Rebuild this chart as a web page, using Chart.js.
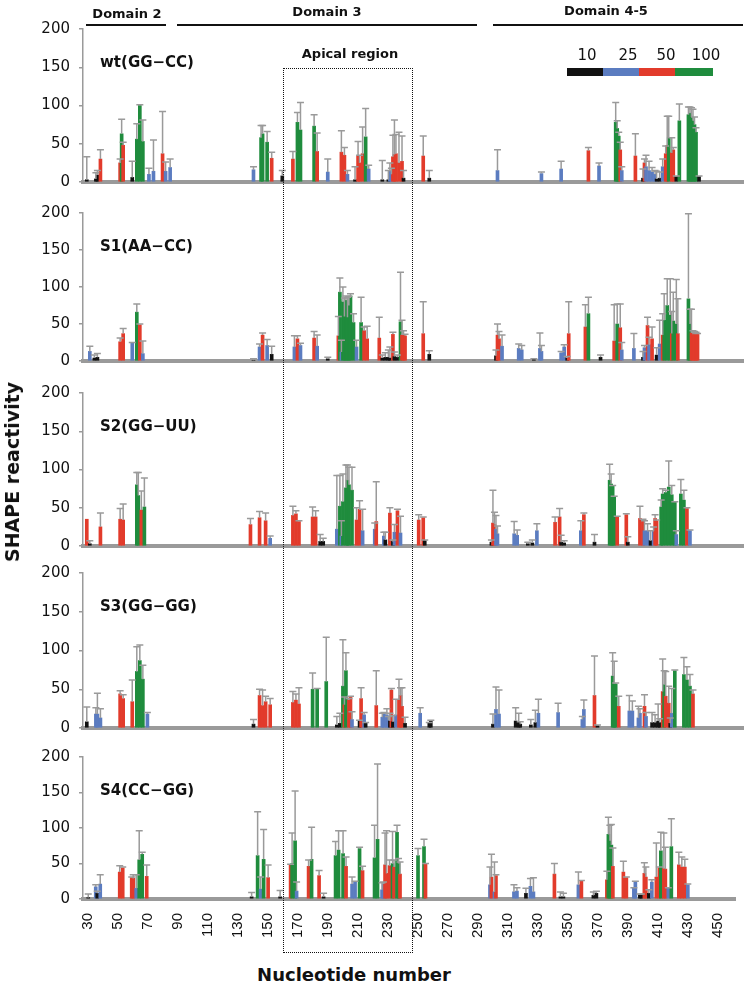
<!DOCTYPE html>
<html>
<head>
<meta charset="utf-8">
<title>SHAPE reactivity</title>
<script src="https://cdn.jsdelivr.net/npm/chart.js"></script>
<style>
  body { margin: 0; background: #fff; font-family: "DejaVu Sans", sans-serif; color: #111; }
  #page { position: relative; width: 750px; height: 986px; overflow: hidden; }
  .panel { position: absolute; left: 0; width: 750px; }
  .txt { position: absolute; white-space: nowrap; font-weight: bold; transform: translate(-50%, -50%); }
  .name { position: absolute; white-space: nowrap; font-weight: bold; font-size: 15px; transform: translateY(-50%); }
  .rule { position: absolute; height: 0; border-top: 2px solid #111; }
  .seg { position: absolute; height: 8px; top: 68px; }
</style>
</head>
<body>
<div id="page"></div>
<script>
// nucleotide position, reactivity and error for each construct
const wtPos = [29,35,36,38,51,52,53,59,62,64,66,70,73,79,81,84,139,144,145,148,151,158,165,168,170,179,181,188,197,199,201,206,208,209,211,213,215,224,228,229,230,231,232,233,235,237,238,251,255,300,329,342,360,367,378,379,380,381,382,391,396,397,398,400,402,404,405,407,409,411,412,413,415,416,418,420,426,427,428,429,430,431,433];
const wtVal = [3,4,9,30,25,63,48,6,56,100,53,10,14,37,14,19,16,58,63,52,31,8,30,78,68,73,40,13,39,35,10,3,34,25,37,59,17,3,3,15,10,33,36,37,25,27,5,34,5,15,11,17,41,21,78,70,60,42,15,34,5,25,20,15,13,10,4,5,20,37,48,58,38,42,7,80,88,90,85,80,75,65,7];
const wtErr = [30,8,6,12,5,19,4,21,20,1,28,8,41,55,12,11,4,16,11,14,8,7,10,13,36,15,24,17,28,10,5,17,19,10,35,37,5,25,12,10,8,28,45,25,40,33,10,26,10,27,2,10,4,4,26,10,5,10,5,29,12,5,15,12,6,5,10,8,10,10,38,28,20,3,1,22,10,8,12,15,10,6,1];

const s1Pos = [31,34,36,51,53,59,62,64,66,139,143,145,148,151,166,168,170,179,181,188,195,196,197,198,199,200,201,202,203,205,207,210,212,214,222,224,226,228,229,231,232,234,236,237,238,239,251,255,299,300,301,303,314,316,324,328,329,342,344,346,347,358,360,368,377,379,381,382,390,396,397,399,400,402,405,407,409,410,412,414,415,416,418,419,426,427,428,429,430,431,432];
const s1Val = [13,4,5,26,37,24,66,49,10,1,19,35,21,9,19,30,21,31,20,3,34,93,12,80,60,82,59,75,88,52,19,52,41,30,31,4,5,5,4,36,6,5,53,35,36,34,37,9,7,35,30,20,17,15,2,17,13,11,19,4,37,46,64,5,27,50,45,15,17,5,18,48,22,30,8,23,35,55,75,62,37,54,50,37,84,50,38,36,37,37,36];
const s1Err = [7,4,5,5,7,1,11,1,17,2,4,3,8,11,15,4,3,9,15,2,26,19,16,20,25,6,27,12,3,12,9,34,5,17,28,4,6,10,15,3,6,3,67,20,5,2,43,5,8,15,10,15,6,6,1,21,8,2,3,2,43,30,22,3,49,27,32,10,20,8,3,11,10,16,10,32,29,36,36,49,30,39,60,47,115,20,32,5,3,2,1];

const s2Pos = [29,31,38,51,53,62,63,65,67,137,143,147,150,165,167,169,178,180,183,185,194,196,197,198,200,201,202,204,207,209,211,219,220,225,226,229,231,232,234,236,248,251,252,296,297,298,299,300,311,313,320,323,326,338,341,342,344,355,357,364,374,375,376,377,379,385,386,394,396,397,399,401,403,404,405,408,409,411,413,415,417,418,421,423,425,427];
const s2Val = [35,3,25,35,34,80,66,47,51,28,37,33,10,40,42,32,38,38,6,6,22,52,13,58,76,86,80,73,34,48,20,22,32,13,8,43,6,18,46,17,34,37,7,5,30,28,22,16,16,14,3,4,20,31,38,5,4,20,41,5,86,81,78,64,38,41,5,36,34,20,20,7,20,36,33,51,68,70,77,67,57,15,68,60,49,20];
const s2Err = [0,4,18,14,21,16,30,25,38,8,8,10,3,12,4,1,13,8,9,4,70,40,20,36,30,20,23,30,16,11,28,8,52,5,10,7,2,10,2,22,7,1,1,3,43,16,18,10,16,7,2,4,9,7,11,9,3,13,2,10,21,13,1,1,1,1,7,16,1,13,9,13,5,5,1,9,7,3,34,12,1,5,19,13,1,1];

const s3Pos = [29,35,36,38,51,53,59,62,64,66,69,139,143,145,147,150,165,167,169,178,181,187,194,196,198,199,200,202,203,204,209,210,212,213,220,224,225,227,228,229,230,231,233,235,236,237,239,249,255,256,297,299,301,312,314,315,322,325,327,340,356,357,364,366,376,377,378,380,387,389,393,394,397,398,402,404,406,407,409,410,411,413,414,415,417,423,425,427,429];
const s3Val = [8,18,18,13,44,38,34,73,87,63,18,5,42,29,34,30,33,36,31,50,50,60,4,6,54,30,74,36,40,11,9,38,17,6,29,14,19,17,10,9,49,8,17,36,42,28,6,19,6,9,5,24,18,9,8,5,4,7,19,20,11,24,42,3,67,57,57,28,22,22,13,19,28,15,7,7,9,7,47,56,41,32,6,19,74,69,62,54,44];
const s3Err = [19,8,27,12,4,5,28,32,20,18,2,6,8,20,7,8,14,8,21,21,1,57,11,13,60,10,23,2,1,10,1,14,3,1,45,5,1,8,5,10,2,8,20,27,10,24,8,7,1,1,13,29,31,17,11,3,7,16,18,12,4,12,51,1,30,29,1,13,20,13,15,6,15,5,13,10,22,5,42,18,32,22,7,32,1,22,17,15,5];

const s4Pos = [30,35,36,38,51,53,59,60,62,64,66,69,139,143,145,147,150,158,165,166,168,169,177,179,184,187,195,197,200,202,206,208,211,213,221,223,226,227,228,229,231,233,234,236,237,238,250,254,255,298,299,301,302,314,316,322,325,327,341,345,347,357,359,367,369,376,377,378,379,380,387,389,394,395,398,399,401,402,404,406,409,411,412,414,415,417,419,424,426,428,430];
const s4Val = [2,17,8,21,38,44,30,29,15,55,63,32,3,61,14,56,30,3,48,50,82,11,46,56,33,3,61,69,64,46,21,24,71,40,58,84,13,21,48,36,47,50,45,94,50,35,61,74,49,20,31,10,33,10,11,8,18,10,35,3,3,20,25,5,8,27,91,82,76,46,38,30,15,24,6,6,36,31,8,24,31,44,68,43,42,15,74,48,45,45,20];
const s4Err = [5,3,3,13,9,1,1,5,19,41,3,16,6,62,17,42,18,9,1,43,70,13,9,45,7,5,20,27,32,13,10,1,2,6,46,106,10,3,45,60,8,45,10,10,7,17,10,10,1,25,32,42,1,10,5,7,11,20,15,7,5,18,1,5,3,12,24,22,29,26,15,1,1,1,1,1,15,14,5,3,48,1,26,50,31,1,39,18,14,11,1];

const panelNames = ['wt(GG\u2212CC)', 'S1(AA\u2212CC)', 'S2(GG\u2212UU)', 'S3(GG\u2212GG)', 'S4(CC\u2212GG)'];
const xTicks = [30,50,70,90,110,130,150,170,190,210,230,250,270,290,310,330,350,370,390,410,430,450];
const yTicks = [0,50,100,150,200];
const legendSteps = [10,25,50,100];

const COLORS = ['#111111', '#5b7cc0', '#e23b2b', '#1f8c3d'];
const GREY = '#9a9a9a';

const panels = [
  { pos: wtPos, val: wtVal, err: wtErr },
  { pos: s1Pos, val: s1Val, err: s1Err },
  { pos: s2Pos, val: s2Val, err: s2Err },
  { pos: s3Pos, val: s3Val, err: s3Err },
  { pos: s4Pos, val: s4Val, err: s4Err }
];

// pixel rows of the 200 line and the 0 line of each panel
const top200 = [29, 213, 393, 573, 757];
const zero = [182, 361, 546, 728, 899];
const PAD = 20;

function colorOf(v) {
  if (v < legendSteps[0]) return COLORS[0];
  if (v < legendSteps[1]) return COLORS[1];
  if (v < legendSteps[2]) return COLORS[2];
  return COLORS[3];
}

// grey error bars on top of each bar
const errorBars = {
  id: 'errorBars',
  afterDatasetsDraw(chart) {
    const ctx = chart.ctx;
    const xs = chart.scales.x, ys = chart.scales.y;
    chart.data.datasets.forEach(ds => {
      ctx.save();
      ctx.strokeStyle = GREY;
      ctx.lineWidth = 1.5;
      ds.data.forEach((d, k) => {
        const e = ds.errors[k];
        if (!e) return;
        const px = xs.getPixelForValue(d.x);
        const y0 = ys.getPixelForValue(d.y);
        const y1 = ys.getPixelForValue(d.y + e);
        ctx.beginPath();
        ctx.moveTo(px, y0);
        ctx.lineTo(px, y1);
        ctx.moveTo(px - 3.5, y1);
        ctx.lineTo(px + 3.5, y1);
        ctx.stroke();
      });
      ctx.restore();
    });
  }
};

const page = document.getElementById('page');

function add(tag, cls, css, text) {
  const el = document.createElement(tag);
  if (cls) el.className = cls;
  Object.assign(el.style, css);
  if (text) el.textContent = text;
  page.appendChild(el);
  return el;
}

panels.forEach((p, i) => {
  const last = i === panels.length - 1;
  const bottomH = last ? 62 : PAD;
  const box = add('div', 'panel', {
    top: (top200[i] - PAD) + 'px',
    height: (zero[i] - top200[i] + PAD + bottomH) + 'px'
  });
  const cv = document.createElement('canvas');
  box.appendChild(cv);

  new Chart(cv, {
    type: 'bar',
    data: {
      datasets: [{
        data: p.pos.map((x, k) => ({ x: x, y: p.val[k] })),
        errors: p.err,
        backgroundColor: c => colorOf(c.raw ? c.raw.y : 0),
        barThickness: 3
      }]
    },
    options: {
      responsive: true,
      maintainAspectRatio: false,
      animation: false,
      layout: { padding: { top: PAD, right: 7, left: 0, bottom: 0 } },
      plugins: { legend: { display: false }, tooltip: { enabled: false } },
      scales: {
        x: {
          type: 'linear',
          min: 26.5,
          max: 462,
          offset: false,
          z: 1,
          afterBuildTicks: s => { s.ticks = xTicks.map(v => ({ value: v })); },
          afterFit: s => { s.height = bottomH; },
          grid: { display: false, drawTicks: false },
          border: { color: GREY, width: 4 },
          ticks: {
            display: last,
            autoSkip: false,
            minRotation: 90,
            maxRotation: 90,
            padding: 14,
            color: '#111',
            font: { family: 'Liberation Sans', size: 15 }
          }
        },
        y: {
          min: 0,
          max: 200,
          afterBuildTicks: s => { s.ticks = yTicks.map(v => ({ value: v })); },
          afterFit: s => { s.width = 83; },
          grid: { drawOnChartArea: false, tickLength: 4, color: GREY, lineWidth: 1.5 },
          border: { color: GREY, width: 1.5 },
          ticks: { padding: 9, color: '#111', font: { family: 'DejaVu Sans', size: 15 } }
        }
      }
    },
    plugins: [errorBars]
  });

  add('div', 'name', { left: '100px', top: (top200[i] + 33) + 'px' }, panelNames[i]);
});

// domain headers
add('div', 'txt', { left: '127px', top: '13px', fontSize: '13px' }, 'Domain 2');
add('div', 'txt', { left: '327px', top: '11px', fontSize: '13px' }, 'Domain 3');
add('div', 'txt', { left: '606px', top: '10px', fontSize: '13px' }, 'Domain 4-5');
add('div', 'rule', { left: '86px', width: '80px', top: '24px' });
add('div', 'rule', { left: '177px', width: '300px', top: '24px' });
add('div', 'rule', { left: '493px', width: '250px', top: '24px' });

// apical region box
add('div', 'txt', { left: '350px', top: '53px', fontSize: '13px' }, 'Apical region');
add('div', '', {
  position: 'absolute', left: '283px', top: '68px', width: '128px', height: '883px',
  border: '1.5px dotted #111', zIndex: 5
});

// colour key
const segX = [567, 603, 639, 675, 713];
const keyX = [587, 628, 666, 706];
legendSteps.forEach((v, k) => {
  add('div', 'seg', { left: segX[k] + 'px', width: (segX[k + 1] - segX[k]) + 'px', background: COLORS[k] });
  add('div', 'txt', { left: keyX[k] + 'px', top: '55px', fontSize: '15px', fontWeight: 'normal' }, String(v));
});

// axis titles
add('div', 'txt', { left: '12px', top: '472px', fontSize: '19px', transform: 'translate(-50%, -50%) rotate(-90deg)' }, 'SHAPE reactivity');
add('div', 'txt', { left: '354px', top: '974px', fontSize: '18px' }, 'Nucleotide number');
</script>
</body>
</html>
